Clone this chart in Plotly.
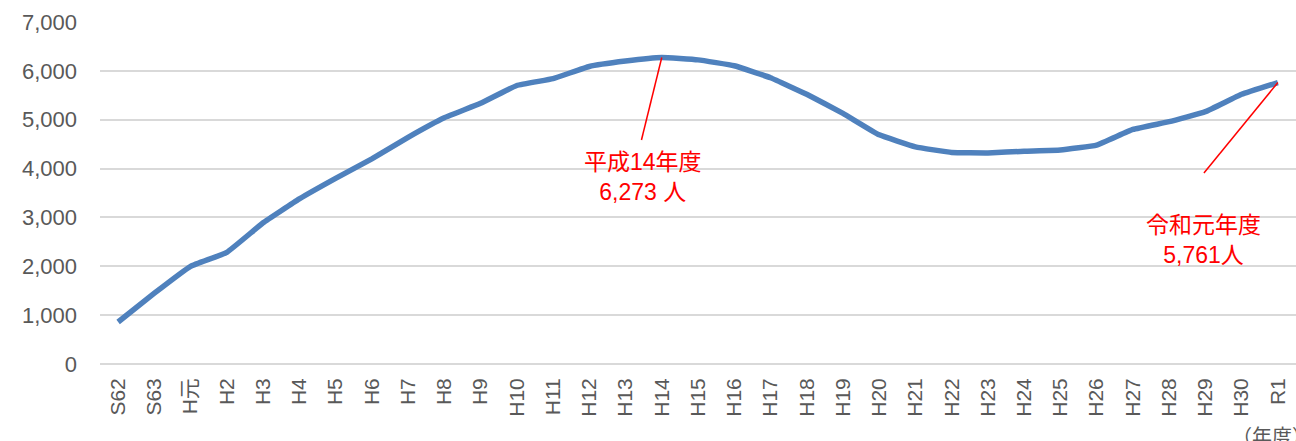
import plotly.graph_objects as go

categories = ["S62", "S63", "H元", "H2", "H3", "H4", "H5", "H6", "H7", "H8", "H9",
              "H10", "H11", "H12", "H13", "H14", "H15", "H16", "H17", "H18", "H19",
              "H20", "H21", "H22", "H23", "H24", "H25", "H26", "H27", "H28", "H29",
              "H30", "R1"]
values = [860, 1450, 2000, 2286, 2890, 3380, 3800, 4200, 4640, 5040, 5335,
          5700, 5840, 6090, 6200, 6273, 6225, 6105, 5860, 5520, 5130,
          4690, 4445, 4330, 4320, 4355, 4380, 4480, 4800, 4960, 5165,
          5520, 5761]

peak_label = "平成14年度<br>6,273 人"
last_label = "令和元年度<br>5,761人"
unit_label = "（年度）"

font_family = "Liberation Sans, Arial, Noto Sans CJK JP, sans-serif"
red = "#ff0000"
gray = "#595959"

xi = list(range(len(categories)))
fig = go.Figure()
fig.add_trace(go.Scatter(
    x=xi, y=values, mode="lines",
    line=dict(color="#4f81bd", width=5.5, shape="spline", smoothing=0.3),
    hoverinfo="skip",
))

peak_i = values.index(max(values))
last_i = len(values) - 1

# leader lines
fig.add_shape(type="line", x0=peak_i, y0=values[peak_i], x1=peak_i - 0.56, y1=4584,
              line=dict(color=red, width=1.5))
fig.add_shape(type="line", x0=last_i, y0=values[last_i], x1=last_i - 2.04, y1=3909,
              line=dict(color=red, width=1.5))

fig.add_annotation(x=peak_i - 0.53, y=3830, text=peak_label, showarrow=False,
                   font=dict(color=red, size=23, family=font_family),
                   xanchor="center", yanchor="middle")
fig.add_annotation(x=last_i - 2.04, y=2530, text=last_label, showarrow=False,
                   font=dict(color=red, size=23, family=font_family),
                   xanchor="center", yanchor="middle")
fig.add_annotation(x=1224 / 1296, xref="paper", y=0.0, yref="paper", yshift=-73,
                   text=unit_label, showarrow=False, xanchor="left", yanchor="middle",
                   font=dict(color=gray, size=20, family=font_family))

fig.update_layout(
    width=1296, height=441,
    margin=dict(l=100, r=0, t=22, b=77),
    paper_bgcolor="white", plot_bgcolor="white",
    showlegend=False,
    font=dict(family=font_family, color=gray, size=21),
    xaxis=dict(
        tickmode="array", tickvals=xi, ticktext=categories,
        range=[-0.5, len(categories) - 0.5],
        tickangle=-90, showgrid=False, zeroline=False, showline=False,
        ticks="", ticklabelstandoff=9,
        tickfont=dict(size=21, color=gray, family=font_family),
        automargin=False, fixedrange=True,
    ),
    yaxis=dict(
        range=[0, 7000], tickvals=[0, 1000, 2000, 3000, 4000, 5000, 6000, 7000],
        tickformat=",", showgrid=True, gridcolor="#d9d9d9", gridwidth=1.5,
        zeroline=True, zerolinecolor="#d9d9d9", zerolinewidth=1.5,
        showline=False, ticks="", ticklabelstandoff=22,
        tickfont=dict(size=22, color=gray, family=font_family),
        automargin=False, fixedrange=True,
    ),
)

fig.write_html("out.html")
